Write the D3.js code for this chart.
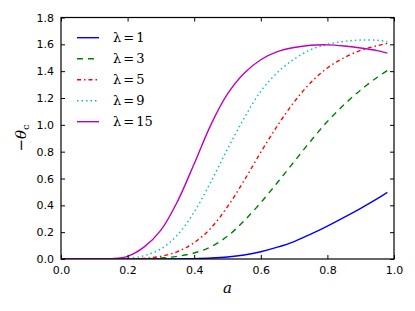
<!DOCTYPE html>
<html><head><meta charset="utf-8">
<script src="https://cdn.jsdelivr.net/npm/d3@7"></script>
<style>body{margin:0;background:#fff}svg{display:block}</style>
</head><body><svg id="c" width="415" height="311"></svg>
<script>
const aVals = [0, 0.1, 0.15, 0.2, 0.25, 0.3, 0.35, 0.4, 0.45, 0.5, 0.55, 0.6, 0.65, 0.7, 0.75, 0.8, 0.85, 0.9, 0.95, 0.98];
const lam1  = [0, 0, 0, 0, 0, 0.0005, 0.001, 0.003, 0.007, 0.015, 0.03, 0.054, 0.088, 0.13, 0.185, 0.245, 0.31, 0.378, 0.45, 0.497];
const lam3  = [0, 0, 0, 0, 0.002, 0.007, 0.02, 0.045, 0.09, 0.17, 0.285, 0.42, 0.57, 0.725, 0.88, 1.025, 1.15, 1.26, 1.355, 1.405];
const lam5  = [0, 0, 0, 0, 0.005, 0.02, 0.055, 0.122, 0.23, 0.39, 0.585, 0.796, 0.994, 1.17, 1.315, 1.424, 1.50, 1.555, 1.59, 1.607];
const lam9  = [0, 0, 0, 0.005, 0.025, 0.075, 0.18, 0.35, 0.575, 0.82, 1.05, 1.25, 1.39, 1.49, 1.56, 1.60, 1.622, 1.632, 1.63, 1.62];
const lam15 = [0, 0, 0.003, 0.02, 0.09, 0.215, 0.43, 0.71, 1.0, 1.23, 1.385, 1.485, 1.545, 1.576, 1.593, 1.596, 1.588, 1.573, 1.553, 1.535];
const seriesNames = ["1", "3", "5", "9", "15"];
const seriesColors = ["#0000ff", "#008000", "#ff0000", "#00bfbf", "#bf00bf"];
const seriesDash = [null, "6,5", "4,3,1.5,3", "1.5,3", null];
const xTicks = [0, 0.2, 0.4, 0.6, 0.8, 1.0];
const yTicks = [0, 0.2, 0.4, 0.6, 0.8, 1.0, 1.2, 1.4, 1.6, 1.8];

const allSeries = [lam1, lam3, lam5, lam9, lam15];
const svg = d3.select("#c");
const L = 61, R = 394, T = 17.5, B = 259;
const x = d3.scaleLinear().domain([0, 1]).range([L, R]);
const y = d3.scaleLinear().domain([0, 1.8]).range([B, T]);

svg.append("defs").append("clipPath").attr("id", "clip")
  .append("rect").attr("x", L).attr("y", T).attr("width", R - L).attr("height", B - T);

const line = d3.line().x(d => x(d[0])).y(d => y(d[1])).curve(d3.curveCatmullRom.alpha(0.5));
const g = svg.append("g").attr("clip-path", "url(#clip)");
allSeries.forEach((s, i) => {
  g.append("path").datum(aVals.map((a, j) => [a, s[j]]))
    .attr("d", line).attr("fill", "none")
    .attr("stroke", seriesColors[i]).attr("stroke-width", 1.4)
    .attr("stroke-dasharray", seriesDash[i]);
});

// axes (ticks inward on all sides)
const tickFont = "'DejaVu Sans', sans-serif";
function styleAxis(sel) {
  sel.select(".domain").remove();
  sel.selectAll("text").attr("font-family", tickFont).attr("font-size", "11px").attr("fill", "#000");
  sel.selectAll("line").attr("stroke", "#000");
}
svg.append("g").attr("transform", `translate(0,${B})`)
  .call(d3.axisBottom(x).tickValues(xTicks).tickFormat(d3.format(".1f")).tickSizeInner(-4).tickSizeOuter(0).tickPadding(7))
  .call(styleAxis);
svg.append("g").attr("transform", `translate(0,${T})`)
  .call(d3.axisTop(x).tickValues(xTicks).tickFormat("").tickSizeInner(-4).tickSizeOuter(0))
  .call(styleAxis);
svg.append("g").attr("transform", `translate(${L},0)`)
  .call(d3.axisLeft(y).tickValues(yTicks).tickFormat(d3.format(".1f")).tickSizeInner(-4).tickSizeOuter(0).tickPadding(7))
  .call(styleAxis);
svg.append("g").attr("transform", `translate(${R},0)`)
  .call(d3.axisRight(y).tickValues(yTicks).tickFormat("").tickSizeInner(-4).tickSizeOuter(0))
  .call(styleAxis);

svg.append("rect").attr("x", L).attr("y", T).attr("width", R - L).attr("height", B - T)
  .attr("fill", "none").attr("stroke", "#000").attr("stroke-width", 1.2);

// axis labels
svg.append("text").attr("x", (L + R) / 2).attr("y", 293).attr("text-anchor", "middle")
  .attr("font-family", "'DejaVu Serif', serif").attr("font-style", "italic").attr("font-size", "15px").text("a");
const yl = svg.append("text").attr("transform", "translate(26,138) rotate(-90)").attr("text-anchor", "middle")
  .attr("font-family", "'DejaVu Serif', serif").attr("font-size", "15px");
yl.append("tspan").text("\u2212");
yl.append("tspan").attr("font-style", "italic").text("\u03b8");
yl.append("tspan").attr("font-size", "10px").attr("dy", 3).text("c");

// legend
seriesNames.forEach((n, i) => {
  const yy = 37.7 + i * 21;
  svg.append("line").attr("x1", 77).attr("x2", 99).attr("y1", yy).attr("y2", yy)
    .attr("stroke", seriesColors[i]).attr("stroke-width", 1.4).attr("stroke-dasharray", seriesDash[i]);
  const t = svg.append("text").attr("x", 113).attr("y", yy + 4.5)
    .attr("font-family", "'DejaVu Serif', serif").attr("font-size", "13px");
  t.append("tspan").text("\u03bb");
  t.append("tspan").attr("dx", 2).text("=");
  t.append("tspan").attr("dx", 2).text(n);
});
</script></body></html>
